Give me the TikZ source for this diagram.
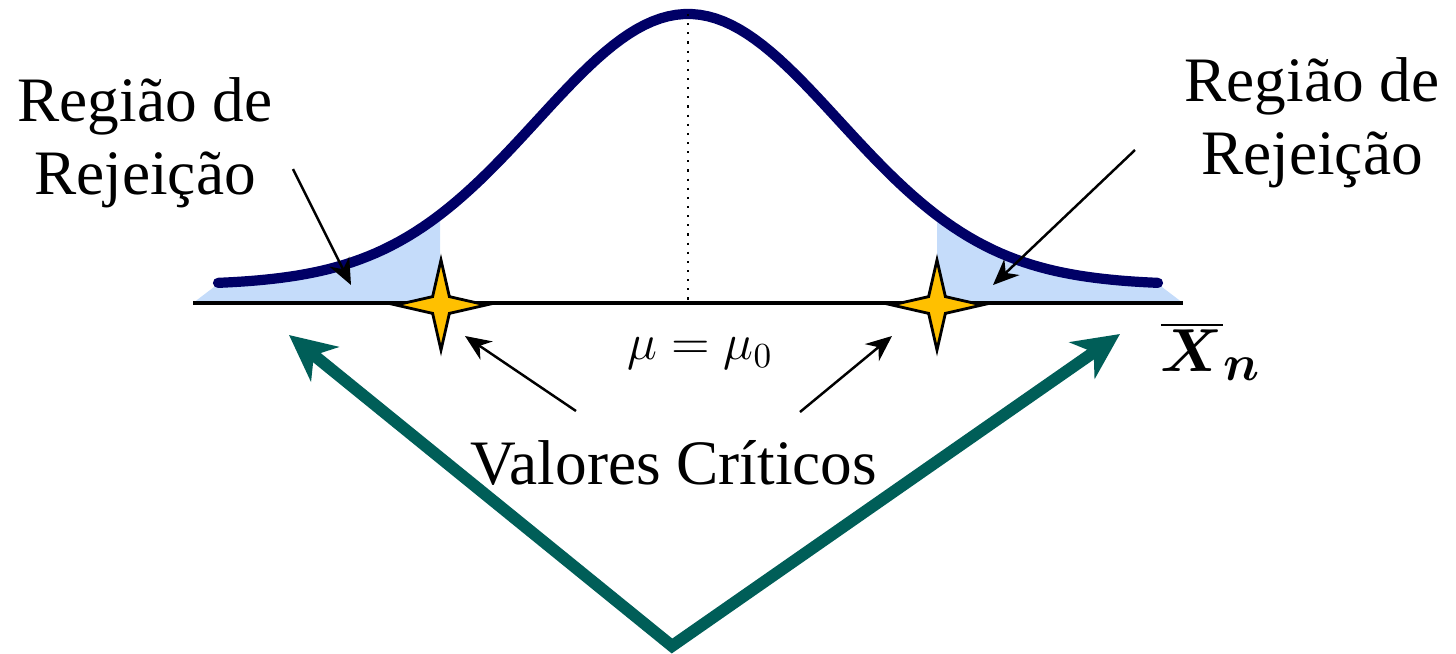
\documentclass[tikz,border=0pt]{standalone}
\usepackage{fontspec}
\setmainfont{Liberation Serif}
\usepackage{bm}
\usetikzlibrary{arrows.meta, positioning, shapes.geometric}

\definecolor{curvaazul}{RGB}{0,0,102}
\definecolor{caudaazul}{RGB}{197,220,250}
\definecolor{estrela}{RGB}{255,192,0}
\definecolor{verdeseta}{RGB}{0,94,88}

\begin{document}
\begin{tikzpicture}[
    x=0.01cm, y=-0.01cm,
    texto/.style={align=center, font=\fontsize{18}{20.7}\selectfont},
    critico/.style={star, star points=4, star point ratio=3.8, minimum size=0.9cm, inner sep=0pt, draw=black, line width=0.8pt, fill=estrela},
    seta/.style={-{Stealth[length=2.6mm, width=2.2mm]}, line width=0.7pt, black},
    setaverde/.style={{Stealth[length=4.6mm, width=4.4mm, inset=1.4mm]}-{Stealth[length=4.6mm, width=4.4mm, inset=1.4mm]}, line width=3.4pt, draw=verdeseta, line join=miter},
    cauda/.style={fill=caudaazul},
    curva/.style={draw=curvaazul, line width=2.9pt, line cap=round, line join=round}
]
\useasboundingbox (0,0) rectangle (1456,654);

% === REGIOES DE REJEICAO (caudas) ===
\fill[cauda] (193,303) -- (218,284)
    -- plot[domain=218:440, samples=40] (\x, {285-271*exp(-0.5*((\x-688)/151)^2)})
    -- (440,303) -- cycle;
\fill[cauda] (1183,303) -- (1158,284)
    -- plot[domain=1158:937, samples=40] (\x, {285-271*exp(-0.5*((\x-688)/151)^2)})
    -- (937,303) -- cycle;

% === EIXO ===
\coordinate (eixoini) at (193,303);
\coordinate (eixofim) at (1183,303);
\draw[line width=1.2pt] (eixoini) -- (eixofim);

% === CURVA NORMAL ===
\draw[curva] plot[domain=218:1158, samples=120] (\x, {285-271*exp(-0.5*((\x-688)/151)^2)});
\coordinate (pico) at (688,14);
\coordinate (centro) at (688,303);
\draw[dotted, line width=0.6pt] (pico) -- (centro);

% === VALORES CRITICOS ===
\node[critico] (critesq) at (441,305) {};
\node[critico] (critdir) at (937,305) {};

% === TEXTOS ===
\node[texto] (regiaoesq) at (145,143) {Região de\\Rejeição};
\node[texto] (regiaodir) at (1312,123) {Região de\\Rejeição};
\node[texto] (valores) at (674,463) {Valores Críticos};
\node[font=\fontsize{14}{16}\selectfont] (media) at (700,354) {$\mu=\mu_0$};
\node[font=\fontsize{19}{21}\selectfont] (xbarra) at (1211,352) {$\overline{\bm{X}}_{\bm{n}}$};

% === SETAS ===
\coordinate (iniesq) at (293,169);
\coordinate (pontaesq) at (351,285);
\coordinate (inidir) at (1135,150);
\coordinate (pontadir) at (993,285);
\coordinate (vcesq) at (576,411);
\coordinate (pontavcesq) at (465,336);
\coordinate (vcdir) at (800,412);
\coordinate (pontavcdir) at (892,336);

\draw[seta] (iniesq) -- (pontaesq);
\draw[seta] (inidir) -- (pontadir);
\draw[seta] (vcesq) -- (pontavcesq);
\draw[seta] (vcdir) -- (pontavcdir);

% setas verdes
\coordinate (vertice) at (672,646);
\coordinate (alvoesq) at (289,335);
\coordinate (alvodir) at (1120,334);
\draw[setaverde] (alvoesq) -- (vertice) -- (alvodir);

\end{tikzpicture}
\end{document}
